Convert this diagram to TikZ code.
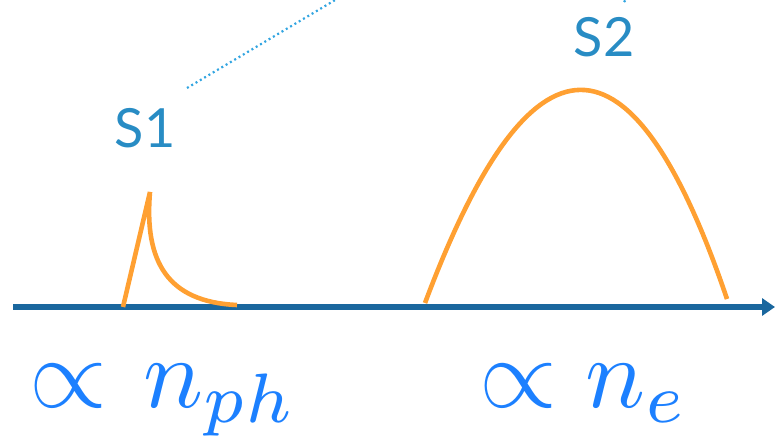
\documentclass[tikz,border=0pt]{standalone}
\usepackage{fontspec}
\newfontfamily\labfont{Lato}
\usetikzlibrary{arrows.meta}
\definecolor{axisblue}{RGB}{26,103,158}
\definecolor{curveorange}{RGB}{255,160,50}
\definecolor{labblue}{RGB}{40,140,196}
\definecolor{dotblue}{RGB}{50,165,225}
\definecolor{mathblue}{RGB}{28,128,255}
\tikzset{
  axisline/.style={draw=axisblue, line width=5.5pt, -{Triangle[length=13pt,width=17pt]}},
  signal/.style={draw=curveorange, line width=4.6pt},
  slabel/.style={text=labblue, font=\labfont\fontsize{54}{60}\selectfont, inner sep=0pt},
  dotline/.style={draw=dotblue, line width=2.2pt, dash pattern=on 2pt off 3pt},
  mathlabel/.style={text=mathblue, scale=10, inner sep=0pt, anchor=base west}
}
\begin{document}
\begin{tikzpicture}[x=1pt,y=-1pt]
\useasboundingbox (0,0) rectangle (775,437);
% axis
\coordinate (ax0) at (13,307);
\coordinate (ax1) at (775,307);
\draw[axisline] (ax0) -- (ax1);
% S1 pulse
\coordinate (p1a) at (123,307);
\coordinate (p1top) at (150,192);
\coordinate (p1end) at (237,305);
\draw[signal] (p1a) -- (p1top) .. controls (144,262) and (168,302) .. (p1end);
% S2 pulse (parabola)
\coordinate (p2a) at (425,303);
\coordinate (p2b) at (727,299);
\draw[signal] (p2a) .. controls (531,20) and (632,19) .. (p2b);
% labels
\node[slabel] (s1) at (145,128) {S1};
\node[slabel] (s2) at (604,37) {S2};
% dotted lines
\coordinate (d1a) at (187,88);
\coordinate (d1b) at (352,-10);
\draw[dotline] (d1a) -- (d1b);
\coordinate (d2a) at (624,2);
\coordinate (d2b) at (630,-6);
\draw[dotline] (d2a) -- (d2b);
% math labels
\node[mathlabel] (m1) at (27.5,407) {$\propto\mkern1.6mu n_{ph}$};
\node[mathlabel] (m2) at (477.5,407) {$\propto n_e$};
\end{tikzpicture}
\end{document}
